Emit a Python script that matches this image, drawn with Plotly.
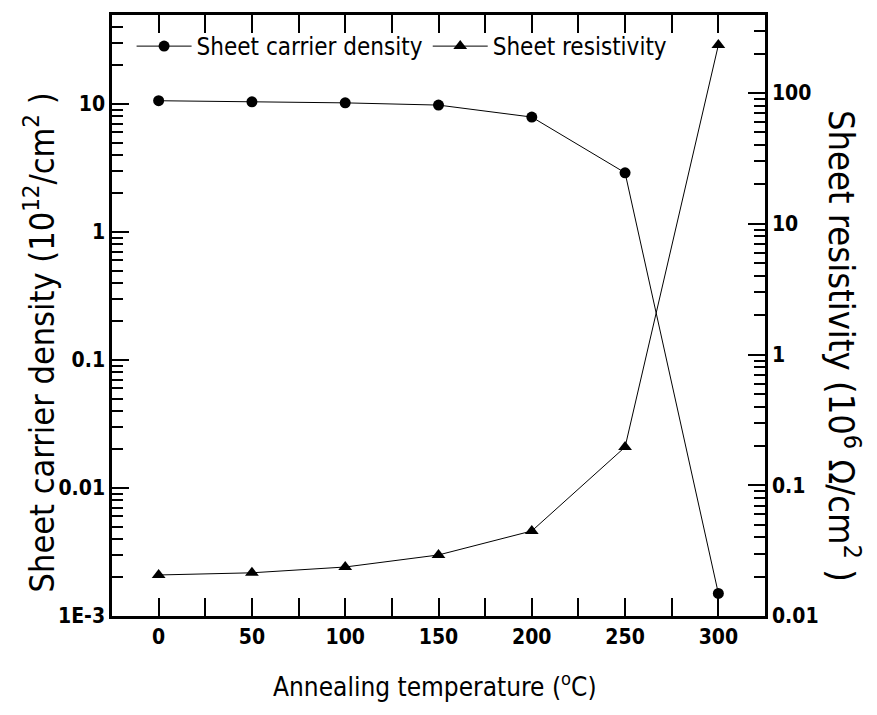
import plotly.graph_objects as go

# Annealing temperatures (deg C)
temperature = [0, 50, 100, 150, 200, 250, 300]
# Sheet carrier density (10^12 / cm^2)
carrier_density = [10.6, 10.4, 10.2, 9.8, 7.9, 2.9, 0.0015]
# Sheet resistivity (10^6 ohm / cm^2)
resistivity = [0.0206, 0.0214, 0.0237, 0.0293, 0.0447, 0.196, 233]

# Label used for the lowest decade of the left axis
left_label_alias = {"0.001": "1E-3"}

FONT = "DejaVu Sans Condensed, sans-serif"

fig = go.Figure()
fig.add_trace(go.Scatter(
    x=temperature, y=carrier_density, name="Sheet carrier density",
    mode="lines+markers", line=dict(color="black", width=1),
    marker=dict(symbol="circle", size=11, color="black"), yaxis="y"))
fig.add_trace(go.Scatter(
    x=temperature, y=resistivity, name="Sheet resistivity",
    mode="lines+markers", line=dict(color="black", width=1),
    marker=dict(symbol="triangle-up", size=12, color="black"), yaxis="y2"))

tickfont = dict(family=FONT, size=21, color="black", weight="bold")
log_axis_common = dict(
    type="log", tickmode="linear", dtick=1, exponentformat="none",
    ticks="inside", ticklen=17, tickwidth=2, tickcolor="black",
    showline=True, linewidth=2.5, linecolor="black", showgrid=False,
    zeroline=False, tickfont=tickfont,
    minor=dict(ticks="inside", ticklen=11, tickwidth=2, tickcolor="black",
               dtick="D1", showgrid=False),
)

fig.update_layout(
    width=877, height=715,
    margin=dict(l=112, r=112, t=15, b=99),
    paper_bgcolor="white", plot_bgcolor="white",
    font=dict(family=FONT, color="black"),
    showlegend=True,
    legend=dict(orientation="h", x=0.03, y=0.985, xanchor="left", yanchor="top",
                font=dict(family=FONT, size=24, color="black"),
                bgcolor="rgba(0,0,0,0)", itemwidth=55, tracegroupgap=0),
    xaxis=dict(range=[-25, 325], tickmode="linear", tick0=0, dtick=50,
               ticks="inside", ticklen=18, tickwidth=2, tickcolor="black",
               showline=True, linewidth=2.5, linecolor="black",
               mirror="allticks", showgrid=False, zeroline=False,
               tickfont=tickfont,
               minor=dict(ticks="inside", ticklen=11, tickwidth=2,
                          tickcolor="black", tick0=0, dtick=25,
                          showgrid=False)),
    yaxis=dict(range=[-3, 1.695], labelalias=left_label_alias,
               **log_axis_common),
    yaxis2=dict(range=[-2, 2.597], overlaying="y", side="right",
                **log_axis_common),
)

fig.add_annotation(text="Sheet carrier density (10<sup>12</sup>/cm<sup>2</sup> )",
                   xref="paper", yref="paper", x=-0.112, y=0.455,
                   xanchor="center", yanchor="middle",
                   textangle=-90, showarrow=False,
                   font=dict(family=FONT, size=34, color="black"))
fig.add_annotation(text="Sheet resistivity (10<sup>6</sup> \u03a9/cm<sup>2</sup> )",
                   xref="paper", yref="paper", x=1.122, y=0.45,
                   xanchor="center", yanchor="middle",
                   textangle=90, showarrow=False,
                   font=dict(family=FONT, size=36, color="black"))
fig.add_annotation(text="Annealing temperature (<sup>o</sup>C)",
                   xref="paper", yref="paper", x=0.495, y=-0.115,
                   xanchor="center", yanchor="middle",
                   showarrow=False, font=dict(family=FONT, size=26, color="black"))

fig.write_html("out.html")
